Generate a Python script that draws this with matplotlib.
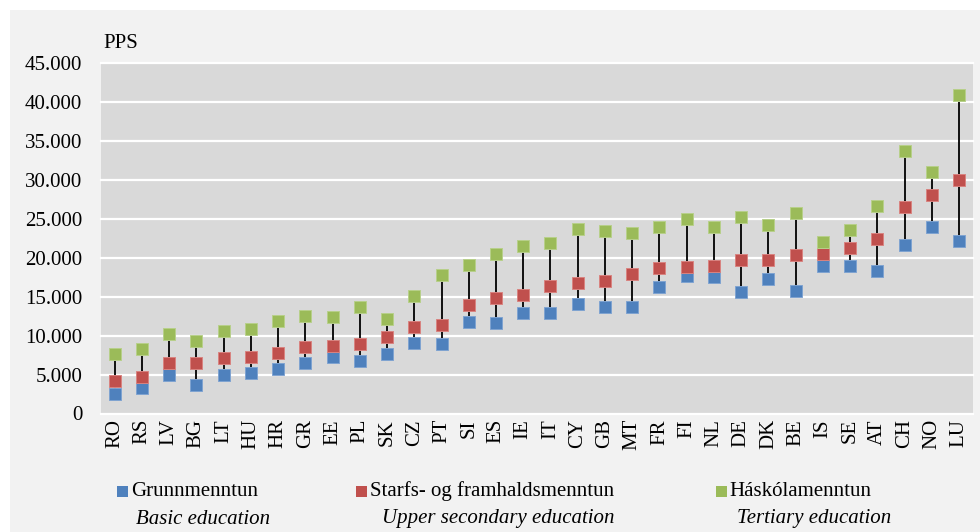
import numpy as np
import matplotlib
matplotlib.use("Agg")
import matplotlib.pyplot as plt
from matplotlib.patches import Rectangle

#data (PPS)
countries = ["RO", "RS", "LV", "BG", "LT", "HU", "HR", "GR", "EE", "PL", "SK", "CZ", "PT", "SI", "ES", "IE",
             "IT", "CY", "GB", "MT", "FR", "FI", "NL", "DE", "DK", "BE", "IS", "SE", "AT", "CH", "NO", "LU"]
basic = [2450, 3220, 4940, 3610, 4940, 5160, 5670, 6530, 7300, 6740, 7650, 9030, 8900, 11810, 11690, 12970,
         12890, 14090, 13670, 13750, 16290, 17700, 17540, 15680, 17280, 15770, 18990, 18990, 18260, 21610, 23930, 22220]
upper_secondary = [4170, 4720, 6530, 6530, 7090, 7300, 7810, 8510, 8680, 8900, 9880, 11170, 11420, 13960, 14900, 15250,
                   16450, 16760, 17060, 17920, 18700, 18900, 18990, 19680, 19770, 20370, 20450, 21280, 22470, 26560, 28060, 30080]
tertiary = [7610, 8250, 10260, 9360, 10610, 10870, 11940, 12510, 12450, 13750, 12200, 15130, 17870, 19080, 20450, 21570,
            21870, 23760, 23470, 23210, 24020, 25010, 24020, 25220, 24280, 25740, 22090, 23630, 26640, 33780, 31070, 40910]

series_names = ["Grunnmenntun", "Starfs- og framhaldsmenntun", "Háskólamenntun"]
series_names_en = ["Basic education", "Upper secondary education", "Tertiary education"]
colors = ["#4F81BD", "#C0504D", "#9BBB59"]
edge_colors = ["#7fa3d1", "#d98380", "#b7d08a"]
y_ticks = [0, 5000, 10000, 15000, 20000, 25000, 30000, 35000, 40000, 45000]

plt.rcParams["font.family"] = ["Liberation Serif", "DejaVu Serif"]
fs = 15

W, H = 980, 532
fig = plt.figure(figsize=(W / 100, H / 100), dpi=100, facecolor="white")
# light grey panel, white margin top and left
fig.patches.append(Rectangle((10 / W, 0), 1 - 10 / W, 1 - 10 / H, transform=fig.transFigure,
                             facecolor="#f2f2f2", edgecolor="none", zorder=-5))

ax = fig.add_axes([101 / W, 1 - 413.5 / H, (972.7 - 101) / W, (413.5 - 63.5) / H])
ax.set_facecolor("#d9d9d9")

x = np.arange(len(countries))
vals = np.array([basic, upper_secondary, tertiary])

# hi-lo lines
ax.vlines(x, vals.min(axis=0), vals.max(axis=0), color="black", linewidth=1.3, zorder=2)

for i in range(3):
    ax.plot(x, vals[i], linestyle="none", marker="s", markersize=8.8, color=colors[i],
            markeredgecolor=edge_colors[i], markeredgewidth=0.7, zorder=3 + i)

ax.set_xlim(-0.5, len(countries) - 0.5)
ax.set_ylim(0, 45000)
ax.set_yticks(y_ticks)
ax.set_yticklabels([f"{v:,}".replace(",", ".") for v in y_ticks], fontsize=fs)
ax.set_xticks(x)
ax.set_xticklabels(countries, rotation=90, fontsize=fs)
ax.tick_params(axis="y", length=0, pad=13.5)
ax.tick_params(axis="x", length=0, pad=4)
for s in ax.spines.values():
    s.set_visible(False)
ax.grid(axis="y", color="white", linewidth=1.6, clip_on=False)
ax.set_axisbelow(True)

fig.text(103 / W, 1 - 48 / H, "PPS", fontsize=fs, va="baseline", ha="left")

# legend, drawn by hand
marker_x = [117, 356, 716]
text_x = [131, 370, 729]
en_x = [136, 382, 737]
for i in range(3):
    fig.patches.append(Rectangle((marker_x[i] / W, 1 - 497 / H), 11 / W, 11 / H, transform=fig.transFigure,
                                 facecolor=colors[i], edgecolor="none", zorder=2))
    fig.text(text_x[i] / W, 1 - 491 / H, series_names[i], fontsize=fs, va="center", ha="left")
    fig.text(en_x[i] / W, 1 - 519 / H, series_names_en[i], fontsize=fs, va="center", ha="left", style="italic")

fig.savefig("out.png", dpi=100, facecolor=fig.get_facecolor())
